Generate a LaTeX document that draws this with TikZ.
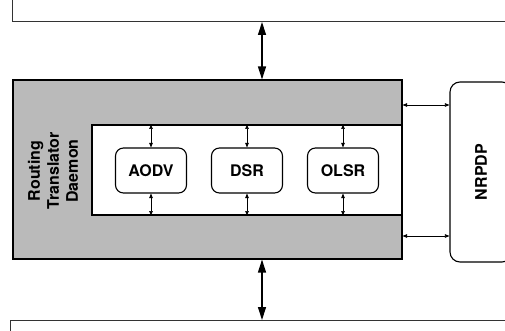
\documentclass[tikz,border=0pt]{standalone}
\usepackage{fontspec}
\setmainfont{TeX Gyre Heros}
\usetikzlibrary{calc}
\usetikzlibrary{arrows.meta}

\begin{document}
\begin{tikzpicture}[x=1pt,y=-1pt,
		box/.style={draw, line width=1.1pt, inner sep=0pt},
		proto/.style={box, fill=white, rounded corners=8pt, minimum width=71pt, minimum height=45pt},
		bus/.style={draw, line width=0.8pt, black!80, inner sep=0pt},
		lbl/.style={font=\fontsize{16}{19}\selectfont\bfseries},
		big/.style={line width=1.2pt, {Triangle[length=13pt,width=8pt]}-{Triangle[length=13pt,width=8pt]}},
		small/.style={line width=0.6pt, {Triangle[length=4.5pt,width=3.5pt]}-{Triangle[length=4.5pt,width=3.5pt]}}]
			\clip (0,0) rectangle (505,331);

			%networks above and below
			\node[bus, minimum width=600pt, minimum height=80pt, anchor=south west] (upper) at (12,22) {};
			\node[bus, minimum width=600pt, minimum height=80pt, anchor=north west] (lower) at (10,320) {};

			\node[box, fill=black!27, minimum width=389pt, minimum height=179pt] (daemon) at (207.5,169.5) {};
			\node[box, fill=white, minimum width=310pt, minimum height=90pt] (inner) at (247,170) {};
			\node[lbl, rotate=90, align=center] (rtd) at (53,171) {Routing\\Translator\\Daemon};

			\node[proto, lbl] (aodv) at (151,170.5) {AODV};
			\node[proto, lbl] (dsr) at (247,170.5) {DSR};
			\node[proto, lbl] (olsr) at (343,170.5) {OLSR};

			\node[box, rounded corners=10pt, minimum width=62pt, minimum height=180pt] (nrpdp) at (481,172) {};
			\node[lbl, rotate=90] (nrpdptext) at (nrpdp.center) {NRPDP};

			\coordinate (tap) at (262,0);
			\coordinate (up) at (0,105);
			\coordinate (down) at (0,236);

			\draw[big] (upper.south -| tap) -- (daemon.north -| tap);
			\draw[big] (daemon.south -| tap) -- (lower.north -| tap);

			\foreach \p in {aodv,dsr,olsr}{
				\draw[small] (inner.north -| \p.north) -- (\p.north);
				\draw[small] (\p.south) -- (inner.south -| \p.south);
			}

			\draw[small] (daemon.east |- up) -- (nrpdp.west |- up);
			\draw[small] (daemon.east |- down) -- (nrpdp.west |- down);

		\end{tikzpicture}
\end{document}
